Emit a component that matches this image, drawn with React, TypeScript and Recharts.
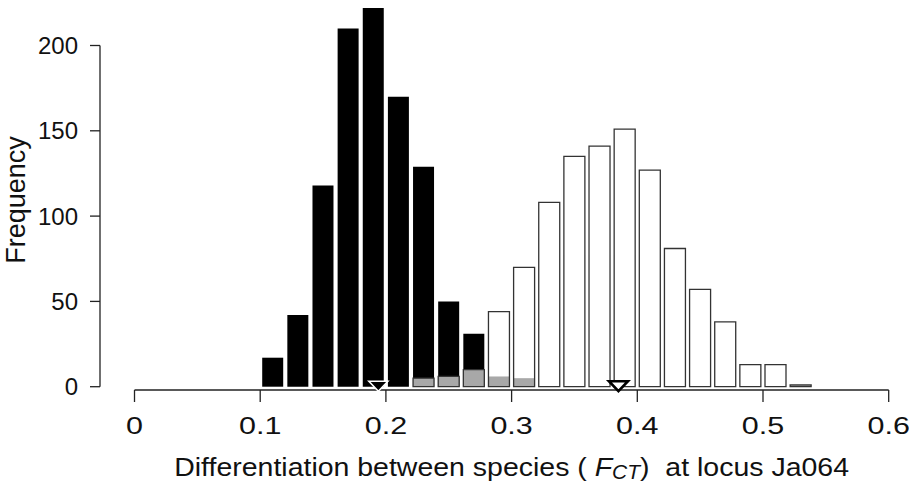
import { BarChart, Bar, XAxis, YAxis, ReferenceLine, ReferenceDot, Cell } from 'recharts'

// histogram bins (width 0.02), counts
const binStarts = [0.10, 0.12, 0.14, 0.16, 0.18, 0.20, 0.22, 0.24, 0.26, 0.28, 0.30, 0.32, 0.34, 0.36, 0.38, 0.40, 0.42, 0.44, 0.46, 0.48, 0.50, 0.52]
const blackCounts = [17, 42, 118, 210, 222, 170, 129, 50, 31, null, null, null, null, null, null, null, null, null, null, null, null, null]
const grayCounts = [null, null, null, null, null, null, 5, 6, 10, 6, 5, null, null, null, null, null, null, null, null, null, null, null]
const whiteCounts = [null, null, null, null, null, null, null, null, null, 44, 70, 108, 135, 141, 151, 127, 81, 57, 38, 13, 13, 1]
const meanValues = [0.194, 0.385]

const xTicks = [0, 0.1, 0.2, 0.3, 0.4, 0.5, 0.6]
const yTicks = [0, 50, 100, 150, 200]

const FONT = '"Liberation Sans", Arial, Helvetica, sans-serif'
const AXIS = '#222'

// R puts the y axis a bit left of the plot region and the x axis a bit below 0
const X_MIN = -0.02745
const Y_MIN = -1.93
const Y_MAX = 225

const table = binStarts.map((s, i) => ({
    mid: +(s + 0.01).toFixed(3),
    black: blackCounts[i],
    gray: grayCounts[i],
    white: whiteCounts[i],
}))

function XTick(props: any) {
    const { x, y, payload } = props
    return (
        <text
            transform={`translate(${x},${y}) scale(1.27,1)`}
            textAnchor="middle"
            dy="0.71em"
            fontSize={24}
            fontFamily={FONT}
            fill="#111"
        >
            {String(payload.value)}
        </text>
    )
}

function XTitle() {
    return (
        <text
            transform="translate(511.6,475.8) scale(1.075,1)"
            textAnchor="middle"
            fontSize={26.5}
            fontFamily={FONT}
            fill="#111"
            style={{ whiteSpace: 'pre' }}
        >
            Differentiation between species ( <tspan fontStyle="italic">F</tspan>
            <tspan fontStyle="italic" fontSize={19.5} dy={3}>CT</tspan>
            <tspan dy={-3}>)  at locus Ja064</tspan>
        </text>
    )
}

function YTitle() {
    return (
        <text transform="translate(25,200) rotate(-90)" textAnchor="middle" fontSize={27} fontFamily={FONT} fill="#111">
            Frequency
        </text>
    )
}

const triangle = (fill: string, stroke: string, width: number) => (props: any) => {
    const { cx, cy } = props
    return (
        <path
            d={`M${cx - 9.5},${cy - 5.5} L${cx + 9.5},${cy - 5.5} L${cx},${cy + 4.5} Z`}
            fill={fill}
            stroke={stroke}
            strokeWidth={width}
            strokeLinejoin="miter"
        />
    )
}

export default function App() {
    return (
        <div style={{ position: 'absolute', left: 0, top: 0, background: '#fff' }}>
            <BarChart
                width={909}
                height={483}
                data={table}
                margin={{ top: 2.85, right: 20.3, bottom: 43, left: 30 }}
                barSize={21}
                barGap={-21}
            >
                <XAxis
                    type="number"
                    dataKey="mid"
                    domain={[X_MIN, 0.6]}
                    ticks={xTicks}
                    interval={0}
                    allowDataOverflow
                    axisLine={false}
                    tickLine={{ stroke: AXIS, strokeWidth: 1.3 }}
                    tickSize={12}
                    tickMargin={15}
                    height={50}
                    tick={<XTick />}
                    label={<XTitle />}
                />
                <YAxis
                    type="number"
                    domain={[Y_MIN, Y_MAX]}
                    ticks={yTicks}
                    interval={0}
                    allowDataOverflow
                    axisLine={false}
                    tickLine={{ stroke: AXIS, strokeWidth: 1.3 }}
                    tickSize={10}
                    tickMargin={12}
                    width={70}
                    tick={{ fontSize: 24, fill: '#111', fontFamily: FONT }}
                    label={<YTitle />}
                />
                <Bar dataKey="black" fill="#000" isAnimationActive={false} />
                <Bar dataKey="gray" fill="#a8a8a8" isAnimationActive={false}>
                    {table.map((d, i) => (
                        <Cell key={i} stroke={d.black != null ? '#333' : 'none'} strokeWidth={1.3} />
                    ))}
                </Bar>
                <Bar dataKey="white" fill="none" stroke="#333" strokeWidth={1.3} isAnimationActive={false} />
                <ReferenceLine
                    segment={[{ x: 0, y: Y_MIN }, { x: 0.6, y: Y_MIN }]}
                    stroke={AXIS}
                    strokeWidth={1.3}
                    ifOverflow="visible"
                />
                <ReferenceLine
                    segment={[{ x: X_MIN, y: 0 }, { x: X_MIN, y: 200 }]}
                    stroke={AXIS}
                    strokeWidth={1.3}
                    ifOverflow="visible"
                />
                <ReferenceDot x={meanValues[0]} y={0} r={8} ifOverflow="visible" shape={triangle('#000', '#fff', 1.6)} />
                <ReferenceDot x={meanValues[1]} y={0} r={8} ifOverflow="visible" shape={triangle('#fff', '#000', 2.6)} />
            </BarChart>
        </div>
    )
}
